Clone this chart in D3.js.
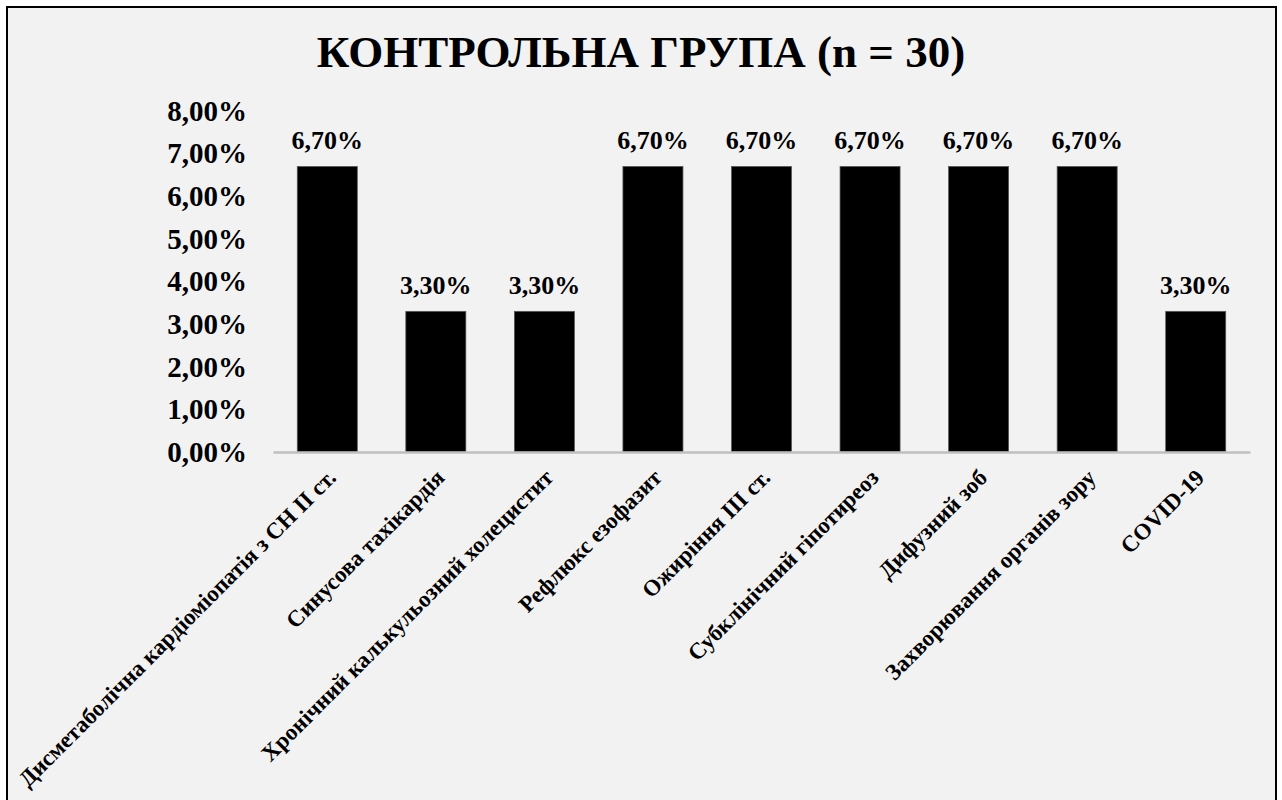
<!DOCTYPE html>
<html>
<head>
<meta charset="utf-8">
<script src="https://cdn.jsdelivr.net/npm/d3@7"></script>
<style>
  html, body { margin: 0; padding: 0; background: #ffffff; }
  svg { display: block; }
  text { font-family: "Liberation Serif", "Times New Roman", serif; font-weight: bold; fill: #000; }
</style>
</head>
<body>
<svg id="chart" width="1282" height="800"></svg>
<script>
const title = "КОНТРОЛЬНА ГРУПА (n = 30)";
const categories = [
  "Дисметаболічна кардіоміопатія з СН ІІ ст.",
  "Синусова тахікардія",
  "Хронічний калькульозний холецистит",
  "Рефлюкс езофазит",
  "Ожиріння ІІІ ст.",
  "Субклінічний гіпотиреоз",
  "Дифузний зоб",
  "Захворювання органів зору",
  "COVID-19"
];
const values = [6.7, 3.3, 3.3, 6.7, 6.7, 6.7, 6.7, 6.7, 3.3];
const yTicks = [0, 1, 2, 3, 4, 5, 6, 7, 8];

const fmt = v => v.toFixed(2).replace(".", ",") + "%";

const svg = d3.select("#chart");

// chart area background + border
svg.append("rect")
  .attr("x", 7).attr("y", 7)
  .attr("width", 1269).attr("height", 820)
  .attr("fill", "#f2f2f2")
  .attr("stroke", "#000").attr("stroke-width", 2);

// title
svg.append("text")
  .attr("x", 641).attr("y", 67)
  .attr("text-anchor", "middle")
  .style("font-size", "45px")
  .text(title);

const x = d3.scaleBand()
  .domain(categories)
  .range([273, 1250])
  .paddingInner(0.447)
  .paddingOuter(0.2235);

const y = d3.scaleLinear().domain([0, 8]).range([452, 111]);

// y axis (labels only)
const yAxis = svg.append("g")
  .attr("transform", "translate(273,0)")
  .call(d3.axisLeft(y).tickValues(yTicks).tickSize(0).tickPadding(26).tickFormat(fmt));
yAxis.select(".domain").remove();
yAxis.selectAll("text")
  .style("font-size", "29px")
  .style("font-family", "'Liberation Serif', 'Times New Roman', serif")
  .style("font-weight", "bold")
  .attr("fill", "#000");

// bars
svg.append("g").selectAll("rect")
  .data(values)
  .join("rect")
  .attr("x", (d, i) => x(categories[i]))
  .attr("width", x.bandwidth())
  .attr("y", d => y(d))
  .attr("height", d => y(0) - y(d))
  .attr("fill", "#000")
  .attr("stroke", "#595959")
  .attr("stroke-width", 0.75);

// x axis
const xAxis = svg.append("g")
  .attr("transform", `translate(0,${y(0)})`)
  .call(d3.axisBottom(x).tickSize(0).tickSizeOuter(0).tickPadding(0));
xAxis.select(".domain")
  .attr("stroke", "#bfbfbf")
  .attr("stroke-width", 2.5);
xAxis.selectAll("text")
  .attr("text-anchor", "end")
  .attr("dy", 0)
  .attr("transform", "translate(10,27) rotate(-45)")
  .style("font-size", "23px")
  .style("font-family", "'Liberation Serif', 'Times New Roman', serif")
  .style("font-weight", "bold")
  .attr("fill", "#000");

// data labels
svg.append("g").selectAll("text")
  .data(values)
  .join("text")
  .attr("x", (d, i) => x(categories[i]) + x.bandwidth() / 2)
  .attr("y", d => y(d) - 17)
  .attr("text-anchor", "middle")
  .style("font-size", "26px")
  .text(d => fmt(d));
</script>
</body>
</html>
